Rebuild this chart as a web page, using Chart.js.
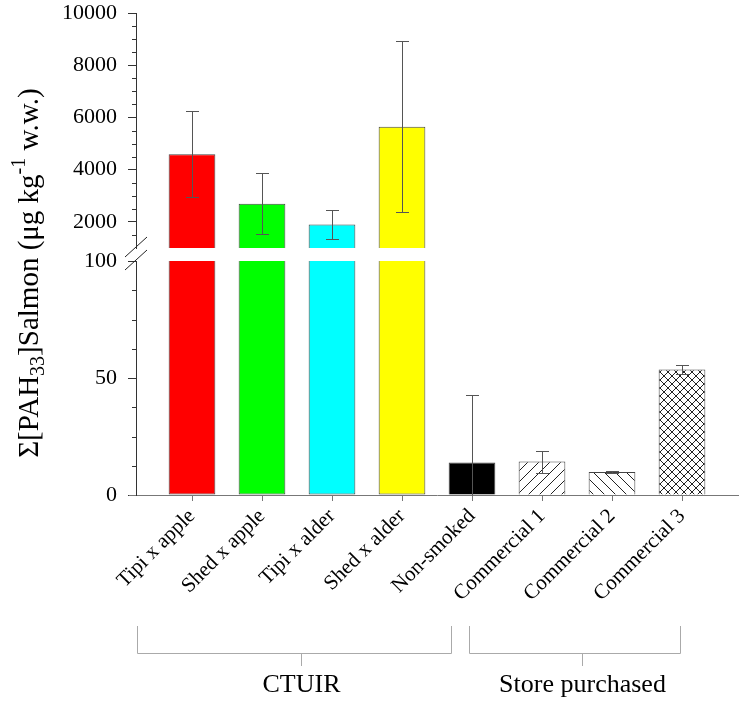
<!DOCTYPE html>
<html><head><meta charset="utf-8">
<script src="https://cdn.jsdelivr.net/npm/chart.js@4/dist/chart.umd.min.js"></script>
<style>html,body{margin:0;padding:0;background:#fff}#wrap{width:750px;height:703px}</style>
</head><body><div id="wrap"><canvas id="c" width="750" height="703"></canvas></div>
<script>
// ---- data ----
const categories = ['Tipi x apple','Shed x apple','Tipi x alder','Shed x alder','Non-smoked','Commercial 1','Commercial 2','Commercial 3'];
const means  = [4590, 2690, 1900, 5640, 13.9, 14.3, 9.8, 53.6];
const errors = [1650, 1170, 540, 3280, 28.8, 4.7, 0.5, 2.0];
const upperTicks = [2000, 4000, 6000, 8000, 10000];
const lowerTicks = [0, 50, 100];
const upperRange = [1000, 10000];
const lowerRange = [0, 100];
const groupNames = ['CTUIR', 'Store purchased'];
const groupFirst = [0, 4];
const groupLast  = [3, 7];
const titleParts = [['Σ[PAH', 'n'], ['33', 'sub'], [']Salmon (μg kg', 'n'], ['-1', 'sup'], [' w.w.)', 'n']];

// ---- styles ----
function hatch(kind) {
  const s = kind === 'cross' ? 8 : 11;
  const c = document.createElement('canvas'); c.width = s; c.height = s;
  const g = c.getContext('2d');
  g.fillStyle = '#fff'; g.fillRect(0, 0, s, s);
  g.strokeStyle = '#222'; g.lineWidth = 1;
  g.beginPath();
  if (kind === 'fwd' || kind === 'cross') { g.moveTo(-1, s + 1); g.lineTo(s + 1, -1); }
  if (kind === 'back' || kind === 'cross') { g.moveTo(-1, -1); g.lineTo(s + 1, s + 1); }
  g.stroke();
  return g.createPattern(c, 'repeat');
}
const ctx = document.getElementById('c').getContext('2d');
const fills = ['#ff0000', '#00ff00', '#00ffff', '#ffff00', '#000000', hatch('fwd'), hatch('back'), hatch('cross')];
const SERIF = "'Liberation Serif', 'Times New Roman', serif";

const upperData = means.map((v, i) => ({x: i, y: v > upperRange[0] ? v : null}));
const lowerData = means.map((v, i) => ({x: i, y: Math.min(v, lowerRange[1])}));

const deco = {
  id: 'deco',
  afterDatasetsDraw(chart) {
    const g = chart.ctx, x = chart.scales.x, yU = chart.scales.yU, yL = chart.scales.yL;
    g.save();
    g.strokeStyle = '#555'; g.lineWidth = 1;
    means.forEach((m, i) => {
      const sc = m > upperRange[0] ? yU : yL;
      const px = Math.round(x.getPixelForValue(i)) + 0.5;
      const lo = Math.max(m - errors[i], sc.min), hi = m + errors[i];
      const pHi = Math.round(sc.getPixelForValue(hi)) + 0.5;
      const pLo = Math.round(sc.getPixelForValue(lo)) + 0.5;
      g.beginPath();
      g.moveTo(px, pLo); g.lineTo(px, pHi);
      g.moveTo(px - 6.5, pHi); g.lineTo(px + 6.5, pHi);
      if (m - errors[i] > sc.min) { g.moveTo(px - 6.5, pLo); g.lineTo(px + 6.5, pLo); }
      g.stroke();
    });
    g.restore();
  },
  afterDraw(chart) {
    const g = chart.ctx, x = chart.scales.x, yU = chart.scales.yU, yL = chart.scales.yL;
    const left = chart.chartArea.left;
    g.save();
    // minor ticks
    g.strokeStyle = '#333'; g.lineWidth = 1;
    g.beginPath();
    for (let v = 1500; v < upperRange[1]; v += 500) {
      if (v % 2000 === 0) continue;
      const p = Math.round(yU.getPixelForValue(v)) + 0.5;
      g.moveTo(left - 4, p); g.lineTo(left, p);
    }
    for (let v = 12.5; v < lowerRange[1]; v += 12.5) {
      if (v % 50 === 0) continue;
      const p = Math.round(yL.getPixelForValue(v)) + 0.5;
      g.moveTo(left - 4, p); g.lineTo(left, p);
    }
    g.stroke();
    // x axis extension to the left
    const yb = Math.round(chart.chartArea.bottom) + 0.5;
    g.strokeStyle = '#777';
    g.beginPath(); g.moveTo(left - 7, yb); g.lineTo(left, yb); g.stroke();
    // axis break marks
    const b1 = yU.getPixelForValue(upperRange[0]) - 1, b2 = yL.getPixelForValue(lowerRange[1]) - 1;
    g.strokeStyle = '#222';
    g.beginPath();
    [b1, b2].forEach(b => { g.moveTo(left - 11, b + 10); g.lineTo(left + 11, b - 10); });
    g.stroke();
    // group brackets
    const ext = [[0.79, 0.70, 0.06], [0.05, -0.03, 0.07]];
    g.strokeStyle = '#aaa'; g.fillStyle = '#000';
    g.font = '26px ' + SERIF; g.textAlign = 'center'; g.textBaseline = 'alphabetic';
    groupNames.forEach((name, k) => {
      const l = Math.round(x.getPixelForValue(groupFirst[k] - ext[k][0])) + 0.5;
      const r = Math.round(x.getPixelForValue(groupLast[k] + ext[k][1])) + 0.5;
      const m = Math.round(x.getPixelForValue((groupFirst[k] + groupLast[k]) / 2 + ext[k][2])) + 0.5;
      g.beginPath();
      g.moveTo(l, 626); g.lineTo(l, 653.5); g.lineTo(r, 653.5); g.lineTo(r, 626);
      g.moveTo(m, 653.5); g.lineTo(m, 666);
      g.stroke();
      g.fillText(name, m, 692);
    });
    // y title
    const base = 29;
    const fontFor = t => (t === 'n' ? base : Math.round(base * 0.7)) + 'px ' + SERIF;
    let total = 0;
    titleParts.forEach(([t, k]) => { g.font = fontFor(k); total += g.measureText(t).width; });
    g.translate(38, 273 + total / 2);
    g.rotate(-Math.PI / 2);
    g.textAlign = 'left';
    let cx = 0;
    titleParts.forEach(([t, k]) => {
      g.font = fontFor(k);
      const dy = k === 'sub' ? 0.2 * base : k === 'sup' ? -0.45 * base : 0;
      g.fillText(t, cx, dy);
      cx += g.measureText(t).width;
    });
    g.restore();
  }
};

const noPad = s => { s.paddingTop = 0; s.paddingBottom = 0; s.paddingLeft = 0; s.paddingRight = 0; };
const yCommon = {
  type: 'linear', position: 'left', stack: 'y',
  ticks: {font: {family: SERIF, size: 22}, color: '#000', padding: 11, callback: v => String(v)},
  grid: {drawOnChartArea: false, tickLength: 8, color: '#333'},
  border: {color: '#333'},
  afterFit: s => { s.width = 136; noPad(s); }
};

new Chart(ctx, {
  type: 'bar',
  data: {
    datasets: [
      {data: upperData, yAxisID: 'yU', backgroundColor: fills, borderColor: '#444', borderWidth: 1,
       borderSkipped: 'start', grouped: false, barPercentage: 0.667, categoryPercentage: 1},
      {data: lowerData, yAxisID: 'yL', backgroundColor: fills, borderColor: '#444', borderWidth: 1,
       borderSkipped: c => means[c.dataIndex] > lowerRange[1] ? 'end' : 'start',
       grouped: false, barPercentage: 0.667, categoryPercentage: 1}
    ]
  },
  options: {
    responsive: false, animation: false, devicePixelRatio: 1,
    layout: {padding: {top: 13, right: 12, bottom: 0, left: 0}},
    plugins: {legend: {display: false}, tooltip: {enabled: false}, title: {display: false}},
    scales: {
      x: {
        type: 'linear', position: 'bottom', min: -0.8, max: 7.8, offset: false,
        afterBuildTicks: s => { s.ticks = categories.map((c, i) => ({value: i})); },
        ticks: {callback: v => categories[v], autoSkip: false, minRotation: 45, maxRotation: 45,
                font: {family: SERIF, size: 21}, color: '#000', padding: 3},
        grid: {drawOnChartArea: false, tickLength: 6, color: '#777', offset: false},
        border: {color: '#777'},
        afterFit: s => { s.height = 208; noPad(s); }
      },
      yU: Object.assign({}, yCommon, {
        weight: 3, stackWeight: 235, min: upperRange[0], max: upperRange[1],
        afterBuildTicks: s => { s.ticks = upperTicks.map(v => ({value: v})); }
      }),
      yG: {
        type: 'linear', position: 'left', stack: 'y', weight: 2, stackWeight: 13,
        grid: {display: false}, ticks: {display: false}, border: {display: false},
        afterFit: s => { s.width = 136; noPad(s); }
      },
      yL: Object.assign({}, yCommon, {
        weight: 1, stackWeight: 234, min: lowerRange[0], max: lowerRange[1],
        afterBuildTicks: s => { s.ticks = lowerTicks.map(v => ({value: v})); }
      })
    }
  },
  plugins: [deco]
});
</script></body></html>
